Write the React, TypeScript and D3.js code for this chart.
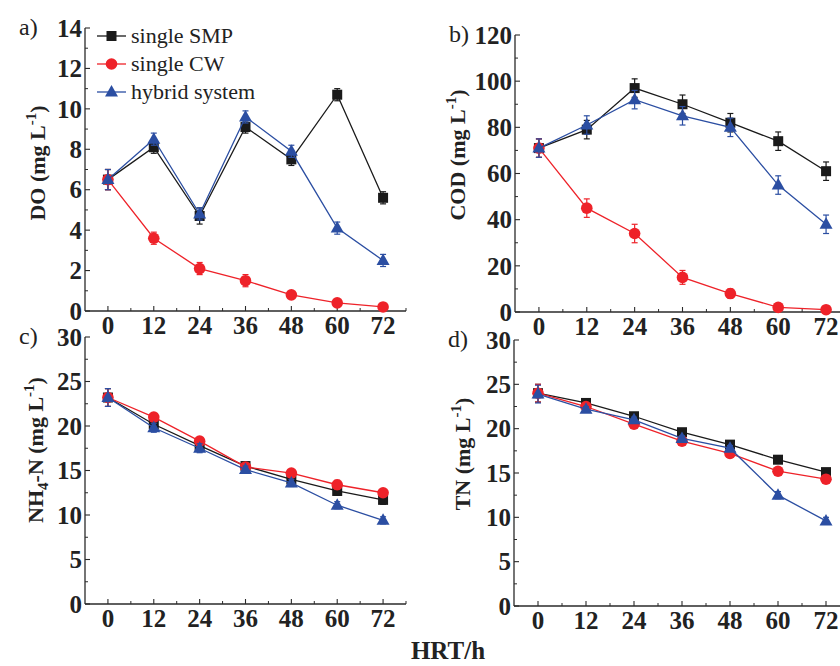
import * as d3 from 'd3'

const hrt = [0, 12, 24, 36, 48, 60, 72]
const seriesNames = ['single SMP', 'single CW', 'hybrid system']

// a) DO
const doSmp = [6.5, 8.1, 4.7, 9.1, 7.5, 10.7, 5.6]
const doCw = [6.5, 3.6, 2.1, 1.5, 0.8, 0.4, 0.2]
const doHyb = [6.5, 8.5, 4.8, 9.6, 7.9, 4.1, 2.5]
const doSmpErr = [0.5, 0.3, 0.4, 0.3, 0.3, 0.3, 0.3]
const doCwErr = [0.5, 0.3, 0.3, 0.3, 0.1, 0.1, 0.1]
const doHybErr = [0.5, 0.3, 0.3, 0.3, 0.3, 0.3, 0.3]

// b) COD
const codSmp = [71, 79, 97, 90, 82, 74, 61]
const codCw = [71, 45, 34, 15, 8, 2, 1]
const codHyb = [71, 81, 92, 85, 80, 55, 38]
const codSmpErr = [4, 4, 4, 4, 4, 4, 4]
const codCwErr = [4, 4, 4, 3, 2, 1, 1]
const codHybErr = [4, 4, 4, 4, 4, 4, 4]

// c) NH4-N
const nhSmp = [23.2, 20.2, 17.8, 15.5, 14.0, 12.7, 11.7]
const nhCw = [23.2, 21.0, 18.3, 15.4, 14.7, 13.4, 12.5]
const nhHyb = [23.2, 19.8, 17.5, 15.1, 13.6, 11.1, 9.4]
const nhSmpErr = [1, 0.5, 0.5, 0.4, 0.4, 0.5, 0.5]
const nhCwErr = [1, 0.4, 0.4, 0.4, 0.4, 0.5, 0.4]
const nhHybErr = [1, 0.5, 0.5, 0.4, 0.4, 0.4, 0.4]

// d) TN
const tnSmp = [24.0, 22.9, 21.4, 19.6, 18.2, 16.5, 15.1]
const tnCw = [24.0, 22.5, 20.5, 18.6, 17.2, 15.2, 14.3]
const tnHyb = [23.9, 22.2, 21.0, 18.9, 17.8, 12.5, 9.6]
const tnSmpErr = [1, 0.3, 0.3, 0.3, 0.3, 0.3, 0.3]
const tnCwErr = [1, 0.3, 0.3, 0.3, 0.3, 0.3, 0.3]
const tnHybErr = [1, 0.3, 0.3, 0.3, 0.3, 0.4, 0.4]

const COLORS = ['#1a1a1a', '#ee2229', '#2b4ea2']
const SERIF = '"Liberation Serif", "Times New Roman", serif'

type PanelProps = {
  label: string
  left: number
  right: number
  top: number
  bottom: number
  yMax: number
  yStep: number
  title: React.ReactNode
  titleX: number
  titleY: number
  values: number[][]
  errors: number[][]
  legend?: boolean
}

function Marker({ kind, x, y, color }: { kind: number; x: number; y: number; color: string }) {
  if (kind === 0) return <rect x={x - 5} y={y - 5} width={10} height={10} fill={color} />
  if (kind === 1) return <circle cx={x} cy={y} r={5.8} fill={color} />
  return <path d={`M${x},${y - 7} L${x + 6.5},${y + 4.5} L${x - 6.5},${y + 4.5} Z`} fill={color} />
}

function Panel(p: PanelProps) {
  const x = d3.scaleLinear().domain([-6, 78]).range([p.left, p.right])
  const y = d3.scaleLinear().domain([0, p.yMax]).range([p.bottom, p.top])
  const yMajor = d3.range(0, p.yMax + 0.001, p.yStep)
  const yMinor = d3.range(p.yStep / 2, p.yMax, p.yStep)
  const xMinor = d3.range(6, 79, 12)
  const line = d3.line<number>().x((_, i) => x(hrt[i])).y((d) => y(d))
  const axisColor = '#2a2a2a'

  return (
    <g>
      <text x={p.left - 66} y={p.top + 7} fontFamily={SERIF} fontSize={24} fill="#222">{p.label}</text>
      {/* axes */}
      <line x1={p.left} x2={p.left} y1={p.top} y2={p.bottom} stroke={axisColor} strokeWidth={1.3} />
      <line x1={p.left} x2={p.right} y1={p.bottom} y2={p.bottom} stroke={axisColor} strokeWidth={1.3} />
      {yMajor.map((v) => (
        <g key={'ym' + v}>
          <line x1={p.left} x2={p.left + 5} y1={y(v)} y2={y(v)} stroke={axisColor} strokeWidth={1.1} />
          <text x={p.left - 3} y={y(v)} dy="0.35em" textAnchor="end" fontFamily={SERIF} fontWeight="bold" fontSize={25} fill="#222">{v}</text>
        </g>
      ))}
      {yMinor.map((v) => (
        <line key={'yn' + v} x1={p.left} x2={p.left + 3} y1={y(v)} y2={y(v)} stroke={axisColor} strokeWidth={1} />
      ))}
      {hrt.map((v) => (
        <g key={'xm' + v}>
          <line x1={x(v)} x2={x(v)} y1={p.bottom} y2={p.bottom - 5} stroke={axisColor} strokeWidth={1.1} />
          <text x={x(v)} y={p.bottom + 23} textAnchor="middle" fontFamily={SERIF} fontWeight="bold" fontSize={25} fill="#222">{v}</text>
        </g>
      ))}
      {xMinor.map((v) => (
        <line key={'xn' + v} x1={x(v)} x2={x(v)} y1={p.bottom} y2={p.bottom - 3} stroke={axisColor} strokeWidth={1} />
      ))}
      <text transform={`translate(${p.titleX},${p.titleY}) rotate(-90)`} textAnchor="middle" fontFamily={SERIF} fontWeight="bold" fontSize={22} fill="#222">
        {p.title}
      </text>
      {/* series */}
      {p.values.map((vals, si) => (
        <g key={'s' + si}>
          <path d={line(vals) || ''} fill="none" stroke={COLORS[si]} strokeWidth={1.3} />
          {vals.map((v, i) => {
            const e = p.errors[si][i]
            const cx = x(hrt[i])
            return (
              <g key={i} stroke={COLORS[si]} strokeWidth={1.2}>
                <line x1={cx} x2={cx} y1={y(v - e)} y2={y(v + e)} />
                <line x1={cx - 3} x2={cx + 3} y1={y(v - e)} y2={y(v - e)} />
                <line x1={cx - 3} x2={cx + 3} y1={y(v + e)} y2={y(v + e)} />
              </g>
            )
          })}
          {vals.map((v, i) => (
            <Marker key={'m' + i} kind={si} x={x(hrt[i])} y={y(v)} color={COLORS[si]} />
          ))}
        </g>
      ))}
      {p.legend &&
        seriesNames.map((name, si) => {
          const ly = 36 + si * 28
          return (
            <g key={name}>
              <line x1={97} x2={126} y1={ly} y2={ly} stroke={COLORS[si]} strokeWidth={1.3} />
              <Marker kind={si} x={111.5} y={ly} color={COLORS[si]} />
              <text x={131} y={ly + 7} fontFamily={SERIF} fontSize={22} fill="#222">{name}</text>
            </g>
          )
        })}
    </g>
  )
}

const sup = (s: string) => (
  <tspan fontSize={15} dy={-9}>{s}</tspan>
)

export default function App() {
  return (
    <svg width={840} height={666} style={{ position: 'absolute', left: 0, top: 0, background: '#fff' }}>
      <Panel
        label="a)" left={85} right={406} top={28} bottom={311} yMax={14} yStep={2}
        titleX={45} titleY={163}
        title={<>DO (mg L{sup('-1')}<tspan dy={9}>)</tspan></>}
        values={[doSmp, doCw, doHyb]} errors={[doSmpErr, doCwErr, doHybErr]} legend
      />
      <Panel
        label="b)" left={515} right={850} top={35} bottom={312} yMax={120} yStep={20}
        titleX={465} titleY={155}
        title={<>COD (mg L{sup('-1')}<tspan dy={9}>)</tspan></>}
        values={[codSmp, codCw, codHyb]} errors={[codSmpErr, codCwErr, codHybErr]}
      />
      <Panel
        label="c)" left={85} right={406} top={337} bottom={604} yMax={30} yStep={5}
        titleX={43} titleY={450}
        title={<>NH<tspan fontSize={15} dy={5}>4</tspan><tspan dy={-5}>-N (mg L</tspan>{sup('-1')}<tspan dy={9}>)</tspan></>}
        values={[nhSmp, nhCw, nhHyb]} errors={[nhSmpErr, nhCwErr, nhHybErr]}
      />
      <Panel
        label="d)" left={514} right={850} top={340} bottom={606} yMax={30} yStep={5}
        titleX={470} titleY={454}
        title={<>TN (mg L{sup('-1')}<tspan dy={9}>)</tspan></>}
        values={[tnSmp, tnCw, tnHyb]} errors={[tnSmpErr, tnCwErr, tnHybErr]}
      />
      <text x={448} y={659} textAnchor="middle" fontFamily={SERIF} fontWeight="bold" fontSize={25} fill="#222">HRT/h</text>
    </svg>
  )
}
